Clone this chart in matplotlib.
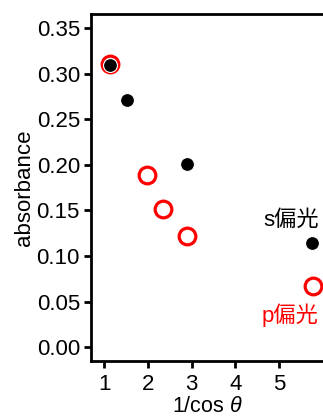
import matplotlib
matplotlib.use("Agg")
import matplotlib.pyplot as plt

plt.rcParams['font.family'] = ['Liberation Sans', 'Noto Sans CJK JP', 'DejaVu Sans']
plt.rcParams['mathtext.fontset'] = 'custom'
plt.rcParams['mathtext.it'] = 'Liberation Sans:italic'
plt.rcParams['mathtext.rm'] = 'Liberation Sans'

s_x = [1.14, 1.53, 2.90, 5.76]
s_y = [0.309, 0.271, 0.201, 0.114]
p_x = [1.13, 1.97, 2.35, 2.90, 5.78]
p_y = [0.310, 0.189, 0.152, 0.122, 0.067]
xticks = [1, 2, 3, 4, 5]
yticks = [0.00, 0.05, 0.10, 0.15, 0.20, 0.25, 0.30, 0.35]

fig = plt.figure(figsize=(3.23, 4.17), dpi=100)
ax = fig.add_axes([0.282, 0.134, 0.718, 0.832])

ax.plot(p_x, p_y, 'o', ms=12, mfc='white', mec='#ff0000', mew=2.3, zorder=2, clip_on=False)
ax.plot(s_x, s_y, 'o', ms=10, mfc='black', mec='white', mew=0.8, zorder=3, clip_on=False)

ax.set_xlim(0.70, 6.0)
ax.set_ylim(-0.015, 0.365)
ax.set_xticks(xticks)
ax.set_yticks(yticks)
ax.set_yticklabels([f"{v:.2f}" for v in yticks])

ax.spines['right'].set_visible(False)
for side in ['left', 'bottom', 'top']:
    ax.spines[side].set_linewidth(2.0)

ax.tick_params(axis='both', direction='out', length=5, width=2, labelsize=16, pad=3, colors='black')
ax.tick_params(axis='x', pad=4)

ax.set_xlabel("1/cos $\\it{\\theta}$", fontsize=15.5)
ax.xaxis.set_label_coords(0.5, -0.100)
ax.set_ylabel("absorbance", fontsize=16, labelpad=1)

ax.text(5.90, 0.139, "s偏光", ha='right', va='center', fontsize=16, color='black')
ax.text(5.90, 0.035, "p偏光", ha='right', va='center', fontsize=16, color='#ff0000')

fig.savefig("out.png", dpi=100)
